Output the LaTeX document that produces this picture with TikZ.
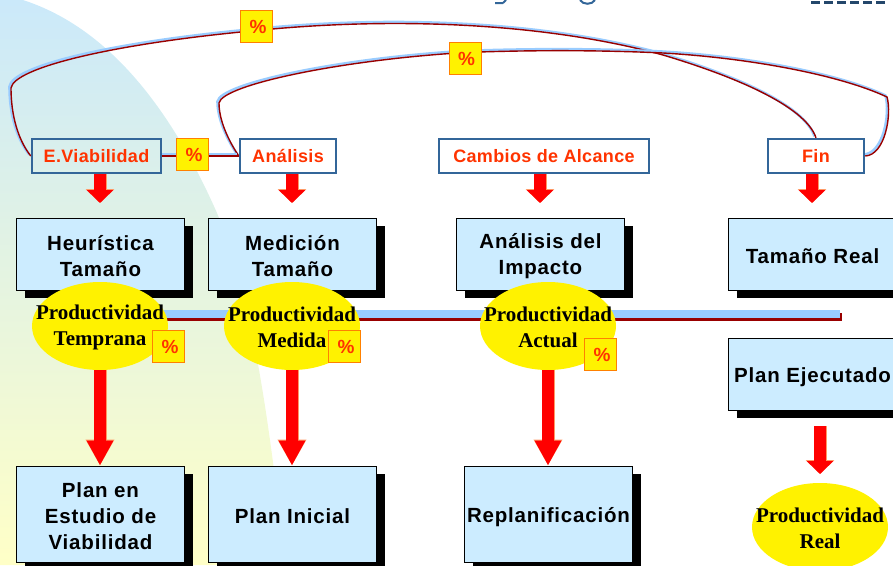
\documentclass[tikz,border=0pt]{standalone}
\usepackage{fontspec}
\setmainfont{Liberation Serif}
\newfontfamily\boxfont[LetterSpace=4]{Liberation Sans}
\newfontfamily\labelfont[LetterSpace=2]{Liberation Sans}
\usetikzlibrary{backgrounds,shadows,arrows.meta,shapes.geometric}
\definecolor{boxblue}{HTML}{CCECFF}
\definecolor{sideblue}{HTML}{CBE9FA}
\definecolor{linkblue}{HTML}{99CCFF}
\definecolor{linkred}{HTML}{990000}
\definecolor{labelblue}{HTML}{336699}
\definecolor{labelred}{HTML}{FF3300}
\definecolor{rimred}{HTML}{FF9966}
\tikzset{
    planbox/.style={draw=black,line width=.9pt,fill=boxblue,minimum width=168pt,inner sep=0pt,
        drop shadow={shadow xshift=8pt,shadow yshift=-8pt,fill=black,opacity=1}},
    plantext/.style={inner sep=0pt,align=center,font=\boxfont\bfseries\fontsize{20.5}{26}\selectfont},
    labelbox/.style={draw=labelblue,line width=2.4pt,minimum height=34pt,inner sep=0pt,text=labelred,
        font=\labelfont\bfseries\fontsize{18}{22}\selectfont},
    prodnode/.style={ellipse,fill=yellow,minimum width=136pt,minimum height=88pt,inner sep=0pt},
    prodtext/.style={inner sep=0pt,align=center,font=\bfseries\fontsize{21}{26}\selectfont},
    pctbox/.style={draw=orange,fill=yellow,line width=.8pt,minimum size=32pt,inner sep=0pt,text=labelred,
        font=\labelfont\bfseries\fontsize{19}{20}\selectfont},
    bigarrow/.style={draw=red,line width=12pt,-{Triangle[length=25pt,width=25pt]},
        preaction={draw=rimred,line width=13pt,-{Triangle[length=26pt,width=27pt]}}},
    shortarrow/.style={draw=red,line width=12pt,-{Triangle[length=13pt,width=26pt]},
        preaction={draw=rimred,line width=13pt,-{Triangle[length=14pt,width=28pt]}}},
    linkback/.style={draw=linkblue,line width=2.6pt,transform canvas={xshift=-1.5pt,yshift=1.5pt}},
    linkfront/.style={draw=linkred,line width=1.4pt},
}
\newcommand\planat[4]{\node(#1)[planbox,minimum height=#3pt] at (#2) {}; \node(#1t)[plantext] at ([yshift=-2pt]#1.center) {#4};}
\newcommand\prodat[3]{\node(#1)[prodnode] at (#2) {}; \node(#1t)[prodtext] at ([yshift=-1pt]#1.center) {#3};}
\newcommand\pctat[2]{\node(#1)[pctbox] at (#2) {\hspace{3pt}\%};}
\newcommand\linked[1]{\draw[linkback]#1; \draw[linkfront]#1;}

\begin{document}
\begin{tikzpicture}[x=1pt,y=-1pt]
    \useasboundingbox (0,0) rectangle (893,565);

    % top row
    \node(ev)[labelbox,minimum width=129pt] at (96.5,156) {E.Viabilidad};
    \node(an)[labelbox,minimum width=96pt] at (288,156) {Análisis};
    \node(ca)[labelbox,minimum width=210pt] at (544,156) {Cambios de Alcance};
    \node(fi)[labelbox,minimum width=96pt] at (816,156) {Fin};

    % plan boxes
    \planat{h1}{100.5,254}{72}{Heurística\\Tamaño}
    \planat{h2}{292.5,254}{72}{Medición\\Tamaño}
    \planat{h3}{540.5,254}{72}{Análisis del\\Impacto}
    \planat{h4}{812.5,254}{72}{Tamaño Real}
    \planat{pe}{812.5,374}{72}{\rule{0pt}{18pt}Plan Ejecutado}
    \planat{p1}{100.5,514}{96}{Plan en\\Estudio de\\Viabilidad}
    \planat{p2}{292.5,514}{96}{Plan Inicial}
    \planat{p3}{548.5,514}{96}{\rule{0pt}{18pt}Replanificación}

    % yellow ones
    \prodat{y1}{100,326}{Productividad\\Temprana}
    \prodat{y2}{292,326}{Productividad\\Medida}
    \prodat{y3}{548,326}{Productividad\\Actual}
    \prodat{y4}{820,527}{Productividad\\Real}

    \pctat{c1}{256.5,26.5}
    \pctat{c2}{465,58.5}
    \pctat{c3}{192.5,154.5}
    \pctat{c4}{168.5,346.5}
    \pctat{c5}{344.5,346.5}
    \pctat{c6}{600.5,354.5}

    \coordinate(barend) at (842,317);
    \coordinate(t1) at (100,203);
    \coordinate(t2) at (292,203);
    \coordinate(t3) at (540,203);
    \coordinate(t4) at (812,203);
    \coordinate(t5) at (820,474);

    \begin{pgfonlayer}{background}
        \shade[top color=sideblue,bottom color=yellow!22] (0,0) -- (23,0)
            .. controls (100,25) and (165,95) .. (217,213)
            .. controls (245,280) and (265,375) .. (285,565) -- (0,565) -- cycle;
        % long bar
        \draw[linkred,line width=8pt] (y1.center|-barend) -- (barend);
        \draw[linkblue,line width=8pt] (100,314) -- (840,314);
        % links
        \linked{(ev.west) .. controls (18,140) and (11,115) .. (11,88) .. controls (14,68) and (110,44) .. ([yshift=-4pt]c1.center) .. controls (400,16) and (550,24) .. (663,55) .. controls (730,75) and (805,105) .. (fi.north)}
        \linked{(an.west) .. controls (228,140) and (219,120) .. (219,103) .. controls (222,85) and (340,60) .. ([yshift=6pt]c2.center) .. controls (530,50) and (600,50) .. (663,53) .. controls (750,58) and (840,75) .. (887,97) .. controls (892,115) and (885,155) .. (fi.east)}
        \linked{(ev.east) -- (an.west)}
    \end{pgfonlayer}

    % red arrows
    \draw[shortarrow] (ev.south-|t1) -- (t1);
    \draw[shortarrow] (an.south-|t2) -- (t2);
    \draw[shortarrow] (ca.south-|t3) -- (t3);
    \draw[shortarrow] (fi.south-|t4) -- (t4);
    \draw[bigarrow] (y1.south) -- (y1.south|-p1.north);
    \draw[bigarrow] (y2.south) -- (y2.south|-p2.north);
    \draw[bigarrow] (y3.south) -- (y3.south|-p3.north);
    \draw[shortarrow] (pe.south-|t5)++(0,16) -- (t5);

    % bits of the cut off title
    \draw[labelblue,line width=2pt] (495,3) -- (503,3) (503,3) -- (506,0);
    \draw[labelblue,line width=2pt] (580,0) .. controls (583,5) and (592,5) .. (595,0);
    \draw[labelblue!70!black,line width=3pt,dash pattern=on 9pt off 4pt] (811,2) -- (886,2);
\end{tikzpicture}
\end{document}
